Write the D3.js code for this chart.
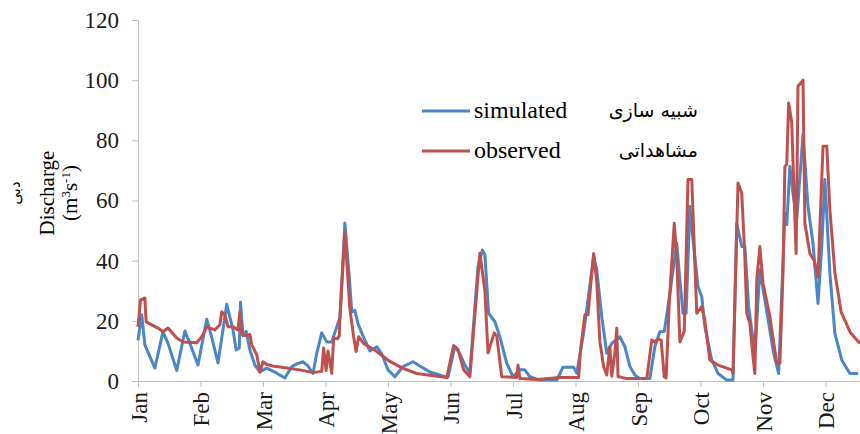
<!DOCTYPE html>
<html>
  <head>
    <meta charset="UTF-8" />
    <title>Discharge</title>
    <script src="https://d3js.org/d3.v7.min.js"></script>
    <style>
      body { margin: 0; background: #fff; }
      .axis path, .axis line { stroke: #bfbfbf; }
      .axis text { font-family: 'Liberation Serif', serif; fill: #1a1a1a; }
      .line { fill: none; stroke-width: 3px; stroke-linejoin: round; }
    </style>
  </head>
  <body>
    <svg id="chart" width="860" height="434"></svg>
    <script>
      // month labels and y ticks
      var months = ['Jan', 'Feb', 'Mar', 'Apr', 'May', 'Jun', 'Jul', 'Aug', 'Sep', 'Oct', 'Nov', 'Dec'];
      var yTicks = [0, 20, 40, 60, 80, 100, 120];

      // simulated: time in months from Jan 1, discharge m3/s
      var simT = [0.00, 0.06, 0.11, 0.27, 0.40, 0.48, 0.62, 0.75, 0.83, 0.96, 1.10, 1.18, 1.28, 1.42, 1.52, 1.57, 1.62, 1.64, 1.68, 1.73, 1.79, 1.87, 1.95, 2.06, 2.22, 2.35, 2.46, 2.54, 2.64, 2.72, 2.80, 2.86, 2.94, 3.02, 3.10, 3.18, 3.23, 3.31, 3.38, 3.42, 3.47, 3.52, 3.60, 3.71, 3.82, 3.90, 4.00, 4.11, 4.24, 4.40, 4.51, 4.67, 4.94, 4.96, 5.07, 5.15, 5.23, 5.31, 5.44, 5.51, 5.55, 5.61, 5.71, 5.79, 5.90, 6.00, 6.11, 6.19, 6.27, 6.43, 6.70, 6.80, 6.97, 7.02, 7.13, 7.29, 7.34, 7.42, 7.50, 7.58, 7.71, 7.79, 7.87, 7.95, 8.03, 8.19, 8.27, 8.35, 8.42, 8.51, 8.62, 8.67, 8.72, 8.77, 8.83, 8.88, 8.96, 9.02, 9.07, 9.18, 9.28, 9.42, 9.52, 9.58, 9.66, 9.71, 9.77, 9.82, 9.87, 9.95, 10.03, 10.17, 10.25, 10.35, 10.38, 10.43, 10.48, 10.54, 10.64, 10.72, 10.80, 10.88, 10.94, 10.99, 11.07, 11.15, 11.26, 11.39, 11.52];
      var simQ = [13.5, 22, 12, 4.3, 16.4, 12.5, 3.5, 16.6, 12.5, 5.3, 20.5, 14.5, 6, 25.5, 17, 10.3, 11, 26.2, 15, 16.5, 10.3, 5.3, 3, 4.3, 2.6, 1, 4.8, 5.7, 6.4, 5, 2.5, 9.3, 16, 13, 13, 18, 21, 52.5, 34.7, 23, 23.5, 19, 15, 10, 11.4, 9, 3.7, 1.4, 4.8, 6.4, 5, 3, 1.3, 1.3, 11.5, 9, 5.3, 2.8, 38, 43.5, 42, 22.5, 19.7, 14.7, 5.9, 1.4, 3.7, 3.7, 1.4, 0.3, 0.3, 4.6, 4.6, 2.6, 16, 41.4, 37, 21.4, 9.2, 12.5, 14.7, 11.4, 4.8, 2, 0.8, 0.8, 11.4, 16.4, 16.5, 29, 45.8, 33.6, 22.5, 22.5, 58, 47, 31.4, 28, 18, 7, 2.5, 0.3, 0.3, 52.4, 44.7, 44.7, 24.7, 17, 9.2, 37, 27, 9.2, 2.5, 55.7, 52, 71.3, 62.4, 53.6, 82, 58, 45.8, 25.8, 44.7, 67, 35.8, 15.8, 7, 2.5, 2.5];

      // observed
      var obsT = [0.00, 0.04, 0.11, 0.13, 0.19, 0.32, 0.40, 0.48, 0.62, 0.72, 0.94, 1.02, 1.10, 1.23, 1.31, 1.34, 1.39, 1.44, 1.52, 1.60, 1.63, 1.66, 1.74, 1.79, 1.82, 1.90, 1.95, 2.00, 2.06, 2.16, 2.38, 2.59, 2.80, 2.94, 2.97, 3.01, 3.04, 3.10, 3.13, 3.19, 3.22, 3.23, 3.31, 3.39, 3.45, 3.49, 3.53, 3.61, 3.82, 4.03, 4.24, 4.46, 4.94, 5.05, 5.12, 5.21, 5.31, 5.47, 5.55, 5.60, 5.70, 5.74, 5.82, 6.06, 6.08, 6.11, 6.38, 6.75, 7.05, 7.08, 7.15, 7.20, 7.29, 7.34, 7.39, 7.45, 7.50, 7.55, 7.58, 7.63, 7.66, 7.68, 7.82, 8.14, 8.22, 8.27, 8.32, 8.37, 8.42, 8.45, 8.50, 8.58, 8.62, 8.67, 8.74, 8.80, 8.86, 8.94, 9.02, 9.07, 9.15, 9.28, 9.50, 9.52, 9.60, 9.66, 9.71, 9.74, 9.79, 9.84, 9.87, 9.90, 9.95, 10.00, 10.11, 10.22, 10.27, 10.32, 10.35, 10.38, 10.41, 10.46, 10.50, 10.53, 10.56, 10.64, 10.67, 10.75, 10.82, 10.88, 10.96, 11.02, 11.07, 11.15, 11.25, 11.40, 11.55];
      var obsQ = [18, 27, 27.6, 19.7, 19, 17.6, 16.4, 17.6, 14.3, 13, 12.7, 14.7, 18, 17, 18.7, 23, 22, 18, 18, 17, 23, 15.5, 15, 15.5, 12, 8.7, 3, 6.4, 5.5, 5, 4.3, 3.7, 2.8, 3.2, 11, 3.5, 10, 2.6, 14.3, 14, 15, 20.3, 49.5, 24, 14.7, 9.8, 14.7, 12.5, 9.8, 6.5, 4.2, 2.5, 1.2, 11.8, 10.5, 3.7, 1.4, 42.5, 30, 9.3, 16, 15, 1.4, 1.2, 5.3, 0.8, 0.5, 1.2, 1.2, 10.3, 22, 22, 42.4, 33, 13, 4.8, 2, 11.4, 1.6, 9.3, 17.5, 1.5, 0.8, 0.8, 13.6, 13, 14, 13.6, 1.4, 1, 26, 52.4, 41, 13, 16.5, 67, 67, 22.5, 24.7, 20, 7, 5.3, 3.7, 2.5, 65.8, 62.4, 41.4, 22.5, 19.2, 8, 2.5, 33.6, 44.7, 32.5, 21.4, 5.9, 5.9, 35.8, 71.3, 72, 92.4, 86, 60, 42.4, 98, 100, 52.4, 42.4, 40, 34.5, 78, 78, 57, 36, 23, 16, 12.5];

      var svg = d3.select('#chart');

      var x = d3.scaleLinear().domain([0, 12]).range([138, 888]);
      var y = d3.scaleLinear().domain([0, 120]).range([381, 20]);

      // y axis
      var yAxis = svg.append('g')
        .attr('class', 'axis')
        .attr('transform', 'translate(138,0)')
        .call(d3.axisLeft(y).tickValues(yTicks).tickSize(6).tickSizeOuter(0).tickPadding(13));
      yAxis.selectAll('text').style('font-size', '23px');

      // x axis with rotated month names
      var xAxis = svg.append('g')
        .attr('class', 'axis')
        .attr('transform', 'translate(0,381)')
        .call(d3.axisBottom(x).tickValues(d3.range(12)).tickFormat(function (d) { return months[d]; })
          .tickSize(6).tickSizeOuter(0));
      xAxis.selectAll('text')
        .style('font-size', '23px')
        .attr('transform', 'rotate(-90)')
        .attr('text-anchor', 'end')
        .attr('x', -11)
        .attr('y', 0)
        .attr('dy', '0.35em');

      // series
      var line = d3.line()
        .x(function (d) { return x(d[0]); })
        .y(function (d) { return y(d[1]); });

      svg.append('path')
        .attr('class', 'line')
        .attr('stroke', '#4a86c8')
        .attr('d', line(d3.zip(simT, simQ)));

      svg.append('path')
        .attr('class', 'line')
        .attr('stroke', '#c0504d')
        .attr('d', line(d3.zip(obsT, obsQ)));

      // y title
      svg.append('text')
        .attr('transform', 'translate(54,193) rotate(-90)')
        .attr('text-anchor', 'middle')
        .style('font-family', 'Liberation Serif')
        .style('font-size', '21px')
        .text('Discharge');

      var unit = svg.append('text')
        .attr('transform', 'translate(77,193) rotate(-90)')
        .attr('text-anchor', 'middle')
        .style('font-family', 'Liberation Serif')
        .style('font-size', '21px');
      unit.append('tspan').text('(m');
      unit.append('tspan').attr('dy', -7).style('font-size', '13px').text('3');
      unit.append('tspan').attr('dy', 7).text('s');
      unit.append('tspan').attr('dy', -7).style('font-size', '13px').text('-1');
      unit.append('tspan').attr('dy', 7).text(')');

      svg.append('text')
        .attr('transform', 'translate(20,193) rotate(-90)')
        .attr('text-anchor', 'middle')
        .style('font-family', 'DejaVu Sans')
        .style('font-size', '15px')
        .text('دبی');

      // legend
      var legend = [
        { name: 'simulated', fa: 'شبیه سازی', color: '#4a86c8' },
        { name: 'observed', fa: 'مشاهداتی', color: '#c0504d' }
      ];
      legend.forEach(function (d, i) {
        var ly = 111 + i * 40;
        svg.append('line')
          .attr('x1', 422).attr('x2', 470)
          .attr('y1', ly).attr('y2', ly)
          .attr('stroke', d.color)
          .attr('stroke-width', 3);
        svg.append('text')
          .attr('x', 474).attr('y', ly + 7)
          .style('font-family', 'Liberation Serif')
          .style('font-size', '24px')
          .text(d.name);
        svg.append('text')
          .attr('x', 698).attr('y', ly + 6)
          .attr('text-anchor', 'end')
          .style('font-family', 'DejaVu Sans')
          .style('font-size', '19px')
          .text(d.fa);
      });
    </script>
  </body>
</html>
